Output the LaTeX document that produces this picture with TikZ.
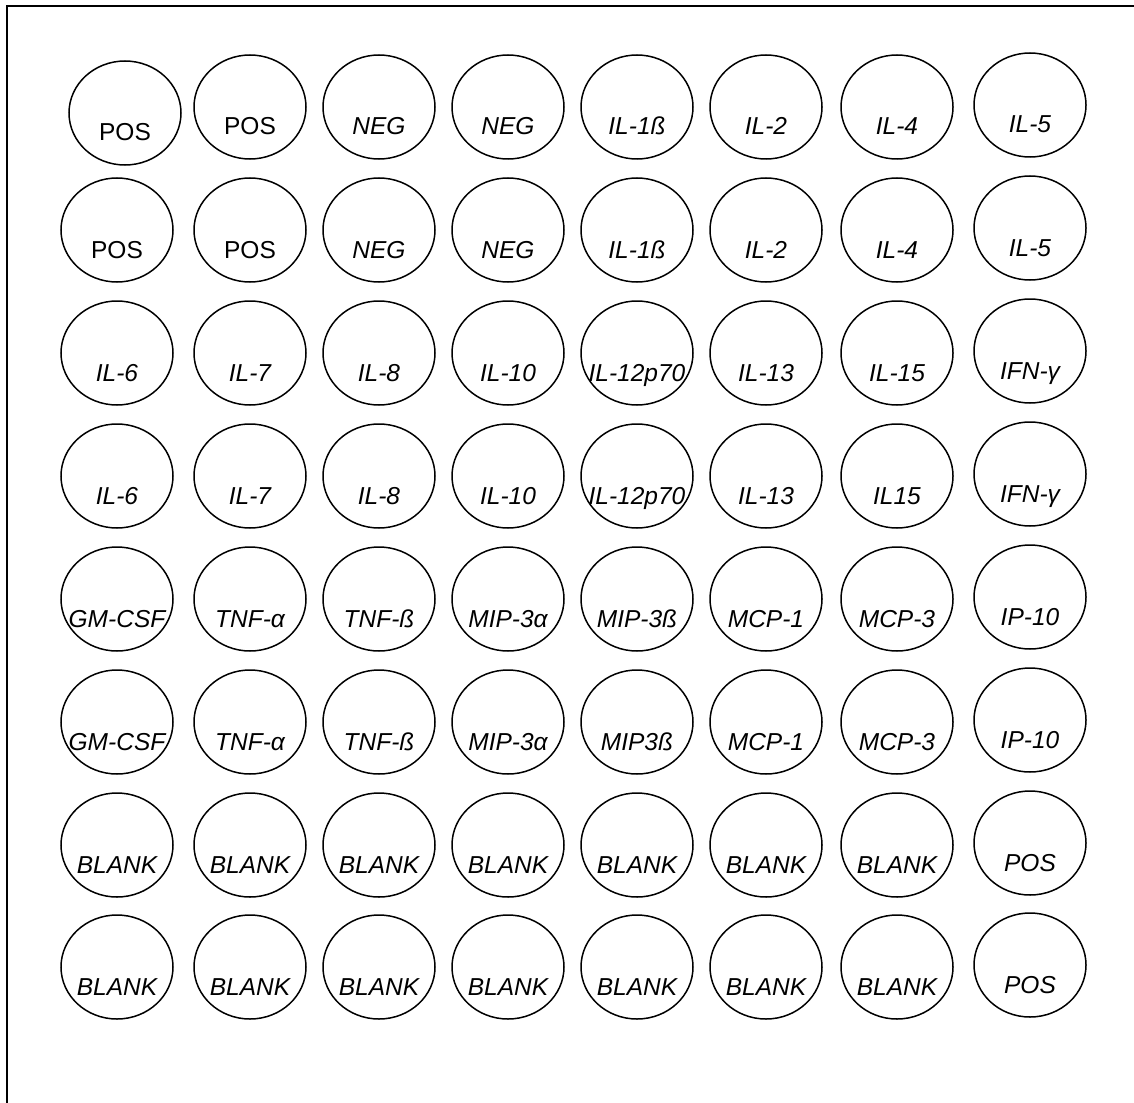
\documentclass[tikz,border=0pt]{standalone}
\usepackage{fontspec}
\setmainfont{Liberation Sans}
\usetikzlibrary{shapes.geometric}
\begin{document}
\begin{tikzpicture}[x=1pt,y=-1pt,
  well/.style={draw, ellipse, line width=1.5pt, minimum width=112pt, minimum height=104pt, inner sep=0pt, outer sep=0pt},
  wlab/.style={anchor=base, inner sep=0pt, font=\fontsize{24.5}{28}\selectfont\itshape},
  frameline/.style={line width=1.6pt}]
\useasboundingbox (0,0) rectangle (1134,1102);
\coordinate (fr-tr) at (1150,6);
\coordinate (fr-tl) at (7,6);
\coordinate (fr-bl) at (7,1120);
\draw[frameline] (fr-tr) -- (fr-tl) -- (fr-bl);
\foreach \r/\y/\xa/\ya/\labs in {
 1/107/125/113/{{\upshape POS},{\upshape POS},NEG,NEG,IL-1ß,IL-2,IL-4,IL-5},
 2/230/117/230/{{\upshape POS},{\upshape POS},NEG,NEG,IL-1ß,IL-2,IL-4,IL-5},
 3/353/117/353/{IL-6,IL-7,IL-8,IL-10,IL-12p70,IL-13,IL-15,IFN-γ},
 4/476/117/476/{IL-6,IL-7,IL-8,IL-10,IL-12p70,IL-13,IL15,IFN-γ},
 5/599/117/599/{GM-CSF,TNF-α,TNF-ß,MIP-3α,MIP-3ß,MCP-1,MCP-3,IP-10},
 6/722/117/722/{GM-CSF,TNF-α,TNF-ß,MIP-3α,MIP3ß,MCP-1,MCP-3,IP-10},
 7/845/117/845/{BLANK,BLANK,BLANK,BLANK,BLANK,BLANK,BLANK,POS},
 8/967/117/967/{BLANK,BLANK,BLANK,BLANK,BLANK,BLANK,BLANK,POS}}{
  \foreach \lab [count=\c] in \labs {
    \ifnum\c=1
      \pgfmathsetmacro\xc{\xa}\pgfmathsetmacro\yc{\ya}
    \else
      \pgfmathsetmacro\xc{{0,250,379,508,637,766,897,1030}[\c-1]}
      \pgfmathsetmacro\yc{\y+{0,0,0,0,0,0,0,-2}[\c-1]}
    \fi
    \node[well] (w\r-\c) at (\xc,\yc) {};
    \node[wlab] (l\r-\c) at ([yshift=-28pt]w\r-\c.center) {\lab};
  }
}
\end{tikzpicture}
\end{document}
